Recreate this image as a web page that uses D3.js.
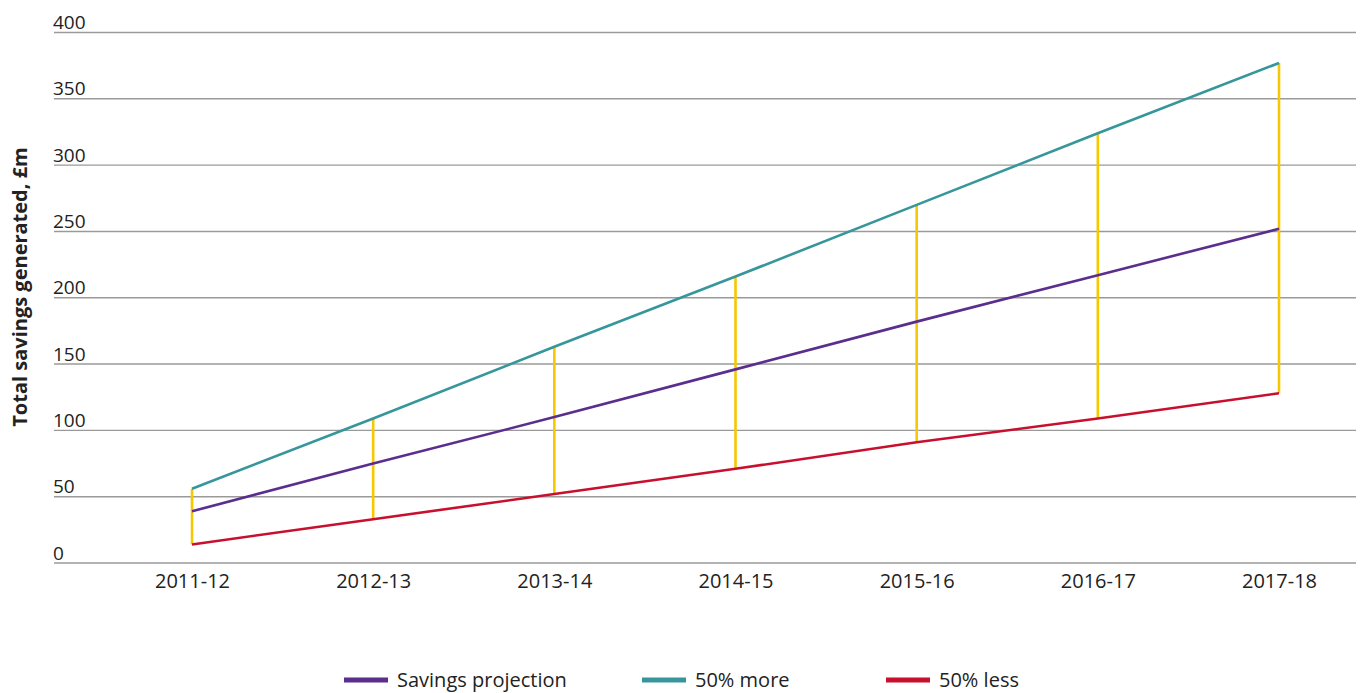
<!DOCTYPE html>
<html>
<head>
<meta charset="utf-8">
<script src="https://cdn.jsdelivr.net/npm/d3@7"></script>
<style>
  html, body { margin: 0; padding: 0; background: #fff; }
  svg { display: block; font-family: "Open Sans", "DejaVu Sans", sans-serif; }
</style>
</head>
<body>
<svg id="chart" width="1362" height="693"></svg>
<script>
// Financial years on the horizontal axis
const years = ["2011-12", "2012-13", "2013-14", "2014-15", "2015-16", "2016-17", "2017-18"];

// Total savings generated (£m) for each scenario
const projection = [39, 75, 110, 146, 182, 217, 252];
const moreCase   = [56, 109, 163, 216, 270, 324, 377];
const lessCase   = [14, 33, 52, 71, 91, 109, 128];

const yTicks = [0, 50, 100, 150, 200, 250, 300, 350, 400];

const series = [
  { name: "Savings projection", values: projection, color: "#5b2e8e" },
  { name: "50% more",           values: moreCase,   color: "#36969b" },
  { name: "50% less",           values: lessCase,   color: "#c8102e" }
];

const svg = d3.select("#chart");

const x = d3.scalePoint().domain(years).range([192, 1279]);
const y = d3.scaleLinear().domain([0, 400]).range([563, 32.5]);

// Horizontal gridlines with labels sitting on top of each line
const grid = svg.append("g");
grid.selectAll("line").data(yTicks).join("line")
  .attr("x1", 54).attr("x2", 1356)
  .attr("y1", d => y(d)).attr("y2", d => y(d))
  .attr("stroke", "#9a9a9a").attr("stroke-width", 1.4);
grid.selectAll("text").data(yTicks).join("text")
  .attr("x", 53).attr("y", d => y(d) - 3.5)
  .attr("font-size", 19).attr("fill", "#222")
  .text(d => d);

// Category labels along the bottom
const xAxis = d3.axisBottom(x).tickSize(0).tickPadding(0);
const xg = svg.append("g").attr("transform", "translate(0,574)").call(xAxis);
xg.select(".domain").remove();
xg.selectAll("text").attr("font-size", 20).attr("fill", "#222")
  .attr("font-family", "\"Open Sans\", sans-serif");

// Range bars joining the low and high scenarios
svg.append("g").selectAll("line").data(years).join("line")
  .attr("x1", d => x(d)).attr("x2", d => x(d))
  .attr("y1", (d, i) => y(lessCase[i])).attr("y2", (d, i) => y(moreCase[i]))
  .attr("stroke", "#f7c700").attr("stroke-width", 2.6);

// Scenario lines
const line = d3.line().x((d, i) => x(years[i])).y(d => y(d));
svg.append("g").selectAll("path").data(series).join("path")
  .attr("d", d => line(d.values))
  .attr("fill", "none")
  .attr("stroke", d => d.color)
  .attr("stroke-width", 2.6);

// Axis title
svg.append("text")
  .attr("transform", "translate(27,287) rotate(-90)")
  .attr("text-anchor", "middle")
  .attr("font-size", 20).attr("font-weight", "bold").attr("fill", "#222")
  .text("Total savings generated, £m");

// Legend
const legendX = [344, 642, 886];
const legend = svg.append("g").selectAll("g").data(series).join("g")
  .attr("transform", (d, i) => `translate(${legendX[i]},680)`);
legend.append("rect")
  .attr("x", 0).attr("y", -2.5).attr("width", 44).attr("height", 5)
  .attr("fill", d => d.color);
legend.append("text")
  .attr("x", 53).attr("y", 7)
  .attr("font-size", 20).attr("fill", "#222")
  .text(d => d.name);
</script>
</body>
</html>
